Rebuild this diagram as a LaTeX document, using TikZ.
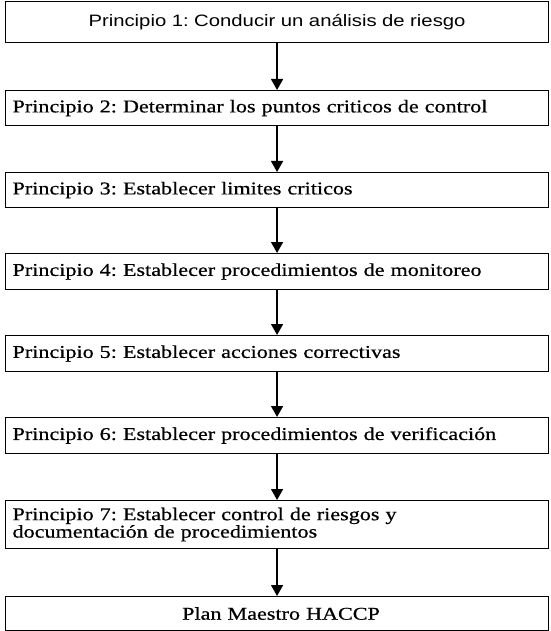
\documentclass[tikz,border=0pt]{standalone}
\usepackage{fontspec}
\setmainfont{Liberation Serif}
\newfontfamily\headsans[FakeStretch=1.23]{Liberation Sans}
\newfontfamily\stepserif[FakeStretch=1.23,FakeBold=0.6]{Liberation Serif}
\usetikzlibrary{arrows.meta}
\frenchspacing
\begin{document}
\begin{tikzpicture}[x=1pt,y=-1pt,
  stepbox/.style={draw, line width=1.1pt, rectangle, anchor=north west,
    minimum width=543pt, text width=529pt, inner xsep=7pt, inner ysep=0pt,
    align=left, font=\stepserif\fontsize{18}{16}\selectfont},
  headbox/.style={stepbox, align=center, font=\headsans\fontsize{16.5}{18}\selectfont},
  flow/.style={line width=1.4pt, -{Triangle[width=12pt,length=11pt]}}]
\useasboundingbox (0,0) rectangle (550,631);
\node[headbox, minimum height=41pt] (p1) at (5,1) {Principio 1: Conducir un análisis de riesgo};
\node[stepbox, minimum height=35pt] (p2) at (5,90) {Principio 2: Determinar los puntos criticos de control};
\node[stepbox, minimum height=35pt] (p3) at (5,172) {Principio 3: Establecer limites criticos};
\node[stepbox, minimum height=36pt] (p4) at (5,253) {Principio 4: Establecer procedimientos de monitoreo};
\node[stepbox, minimum height=36pt] (p5) at (5,335) {Principio 5: Establecer acciones correctivas};
\node[stepbox, minimum height=36pt] (p6) at (5,417) {Principio 6: Establecer procedimientos de verificación};
\node[stepbox, minimum height=48pt] (p7) at (5,500) {Principio 7: Establecer control de riesgos y\\documentación de procedimientos};
\node[stepbox, align=center, minimum height=34pt] (p8) at (5,596) {\hspace*{8pt}Plan Maestro HACCP};
\foreach \a/\b in {p1/p2,p2/p3,p3/p4,p4/p5,p5/p6,p6/p7,p7/p8}
  \draw[flow] (\a.south) -- (\b.north);
\end{tikzpicture}
\end{document}
